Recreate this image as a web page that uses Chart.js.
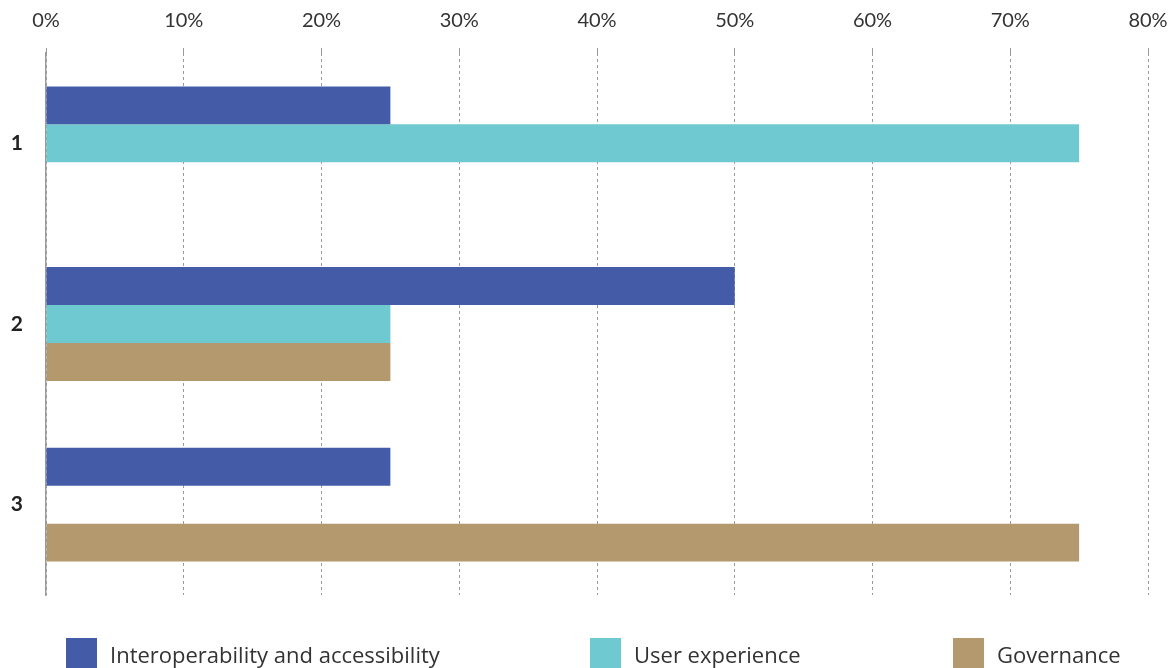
<!DOCTYPE html>
<html>
<head>
<meta charset="utf-8">
<script src="https://cdn.jsdelivr.net/npm/chart.js@4/dist/chart.umd.min.js"></script>
<style>
  html, body { margin: 0; padding: 0; background: #fff; }
  #wrap { position: relative; width: 1176px; height: 668px; overflow: hidden; }
  #legend { position: absolute; left: 0; top: 638px; width: 1176px; height: 30px;
    font-family: "Open Sans", sans-serif; font-size: 22px; color: #333; }
  .item { position: absolute; top: 0; height: 30px; display: flex; align-items: center; }
  .swatch { width: 31px; height: 30px; margin-right: 13px; }
  .item span:last-child { position: relative; top: 1px; }
</style>
</head>
<body>
<div id="wrap">
  <canvas id="chart" width="1176" height="668"></canvas>
  <div id="legend"></div>
</div>
<script>
'use strict';

// Categories and series
var categories = ['1', '2', '3'];
var interoperability = [25, 50, 25];
var userExperience = [75, 25, null];
var governance = [null, 25, 75];
var seriesNames = ['Interoperability and accessibility', 'User experience', 'Governance'];
var xTicks = [0, 10, 20, 30, 40, 50, 60, 70, 80];

var colors = ['#445ca8', '#6fc9d0', '#b3996d'];
var legendLefts = [66, 590, 953];

var fontFamily = 'Lato, sans-serif';

var data = {
  labels: categories,
  datasets: [
    { label: seriesNames[0], data: interoperability, backgroundColor: colors[0] },
    { label: seriesNames[1], data: userExperience, backgroundColor: colors[1] },
    { label: seriesNames[2], data: governance, backgroundColor: colors[2] }
  ]
};

var ctx = document.getElementById('chart').getContext('2d');

var chart = new Chart(ctx, {
  type: 'bar',
  data: data,
  options: {
    indexAxis: 'y',
    responsive: false,
    animation: false,
    categoryPercentage: 0.63,
    barPercentage: 1.0,
    layout: { padding: { top: 0, right: 28, bottom: 73, left: 0 } },
    plugins: {
      legend: { display: false },
      tooltip: { enabled: false }
    },
    scales: {
      x: {
        position: 'top',
        min: xTicks[0],
        max: xTicks[xTicks.length - 1],
        z: 1,
        afterBuildTicks: function (scale) {
          scale.ticks = xTicks.map(function (v) { return { value: v }; });
        },
        afterFit: function (scale) {
          scale.height = 53;
          scale.paddingRight = 0;
          scale.paddingLeft = 0;
        },
        grid: { color: '#9a9a9a', lineWidth: 1, tickLength: 5, drawTicks: true },
        border: { display: false, dash: [3, 3] },
        ticks: {
          padding: 15,
          color: '#333',
          font: { family: fontFamily, size: 20 },
          callback: function (v) { return v + '%'; }
        }
      },
      y: {
        afterFit: function (scale) { scale.width = 46; },
        grid: { display: false, drawTicks: false },
        border: { display: true, color: '#9a9a9a', width: 1.5 },
        ticks: {
          padding: 23,
          color: '#222',
          font: { family: fontFamily, size: 21, weight: 'bold' }
        }
      }
    }
  }
});

// HTML legend built from the datasets
var legendEl = document.getElementById('legend');
chart.data.datasets.forEach(function (ds, i) {
  var item = document.createElement('div');
  item.className = 'item';
  item.style.left = legendLefts[i] + 'px';
  var sw = document.createElement('span');
  sw.className = 'swatch';
  sw.style.background = ds.backgroundColor;
  var tx = document.createElement('span');
  tx.textContent = ds.label;
  item.appendChild(sw);
  item.appendChild(tx);
  legendEl.appendChild(item);
});
</script>
</body>
</html>
